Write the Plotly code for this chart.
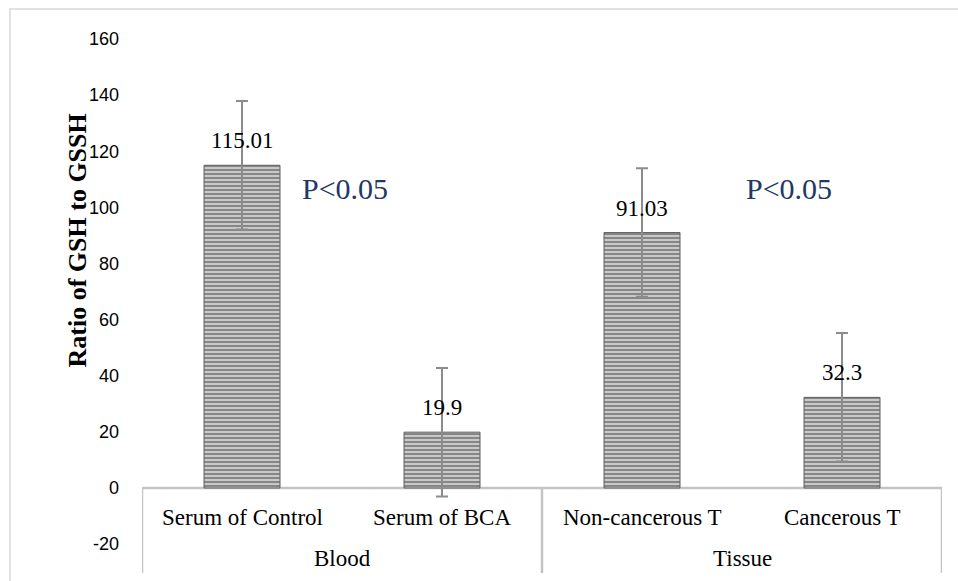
import plotly.graph_objects as go

# ---- data ----
categories = ["Serum of Control", "Serum of BCA", "Non-cancerous T", "Cancerous T"]
groups = ["Blood", "Blood", "Tissue", "Tissue"]
values = [115.01, 19.9, 91.03, 32.3]
errors = [22.9, 22.9, 22.9, 22.9]
y_ticks = [-20, 0, 20, 40, 60, 80, 100, 120, 140, 160]
y_tick_text = ["-20", "0", "20", "40", "60", "80", "100", "120", "140", "160"]
p_labels = ["P<0.05", "P<0.05"]
y_title = "Ratio of GSH to GSSH"

x_pos = list(range(len(categories)))

fig = go.Figure()
fig.add_trace(go.Bar(
    x=x_pos, y=values, width=0.38,
    marker=dict(
        color="#A0A0A0",
        pattern=dict(shape="-", fgcolor="#3F3F3F", bgcolor="#CFCFCF", size=4, solidity=0.55),
        line=dict(color="#5E5E5E", width=1),
    ),
    error_y=dict(type="data", array=errors, visible=True, color="#8C8C8C", thickness=2, width=6),
    showlegend=False, hoverinfo="skip",
))

serif = "Liberation Serif, Times New Roman, serif"

# data labels
for x, v in zip(x_pos, values):
    fig.add_annotation(x=x, y=v, text=str(v), showarrow=False, yanchor="bottom",
                       yshift=10, font=dict(family=serif, size=23, color="#000000"))

# P-value labels
for px, lbl in zip([0.515, 2.735], p_labels):
    fig.add_annotation(x=px, y=106.9, text=lbl, showarrow=False,
                       font=dict(family=serif, size=30, color="#1F3864"))

# category labels (two levels)
for x, c in zip(x_pos, categories):
    fig.add_annotation(x=x, y=(488 - 517) / 2.806, text=c, showarrow=False,
                       font=dict(family=serif, size=23, color="#000000"))
uniq = []
for g in groups:
    if g not in uniq:
        uniq.append(g)
for g in uniq:
    idx = [i for i, gg in enumerate(groups) if gg == g]
    xc = sum(idx) / len(idx)
    fig.add_annotation(x=xc, y=(488 - 558) / 2.806, text=g, showarrow=False,
                       font=dict(family=serif, size=23, color="#000000"))

# y title
fig.add_annotation(xref="paper", yref="paper", x=(60 - 142) / 800, y=1 - 241 / 581,
                   text="<b>" + y_title + "</b>", textangle=-90, showarrow=False,
                   font=dict(family=serif, size=26, color="#000000"))

line_col = "#C4C4C4"
y_bottom = (488 - 573) / 2.806
# zero (category) axis line
fig.add_shape(type="line", x0=-0.5, x1=3.5, y0=0, y1=0, xref="x", yref="y",
              line=dict(color=line_col, width=2.5), layer="below")
# vertical dividers
for xd in [-0.5, 1.5, 3.5]:
    fig.add_shape(type="line", x0=xd, x1=xd, y0=0, y1=y_bottom, xref="x", yref="y",
                  line=dict(color=line_col, width=2.5))
# outer chart border
fig.add_shape(type="rect", xref="paper", yref="paper",
              x0=(10 - 142) / 800, x1=1.2, y0=1 - 9 / 581, y1=-0.2,
              line=dict(color="#D9D9D9", width=1.5), fillcolor="rgba(0,0,0,0)", layer="below")

fig.update_layout(
    width=958, height=581,
    margin=dict(l=142, r=16, t=0, b=0),
    paper_bgcolor="white", plot_bgcolor="white",
    bargap=0.62,
)
fig.update_xaxes(range=[-0.5, 3.5], showticklabels=False, showgrid=False,
                 zeroline=False, showline=False, ticks="")
fig.update_yaxes(range=[(488 - 581) / 2.806, 488 / 2.806], tickvals=y_ticks, ticktext=y_tick_text,
                 showgrid=False, zeroline=False, showline=False, ticks="",
                 ticklabelstandoff=22,
                 tickfont=dict(family="Liberation Sans, Arial, sans-serif", size=18, color="#000000"))

fig.write_html("out.html")
